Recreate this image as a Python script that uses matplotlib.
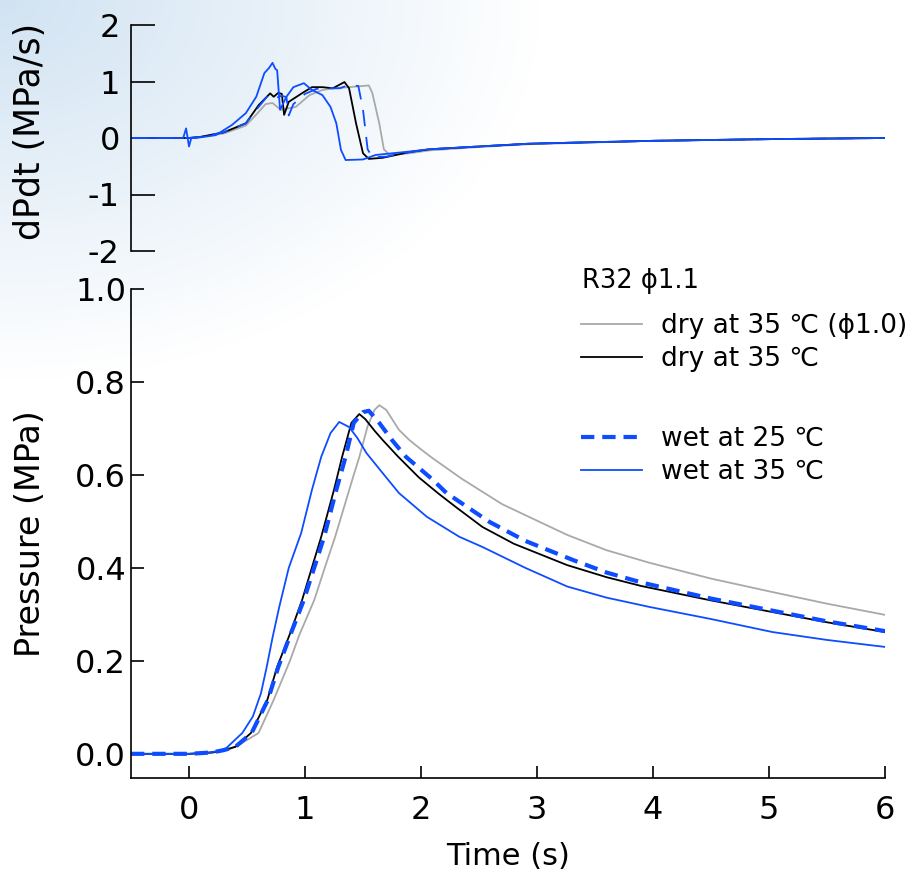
import numpy as np
import matplotlib
matplotlib.use('Agg')
import matplotlib.pyplot as plt
from matplotlib.lines import Line2D

plt.rcParams['font.family'] = ['DejaVu Sans']
plt.rcParams['axes.unicode_minus'] = False

# ---- pressure traces (s, MPa) ----
t_dry10 = [-0.5, 0.0, 0.2, 0.35, 0.45, 0.6, 0.73, 0.87, 0.95, 1.08, 1.17, 1.26, 1.42, 1.47, 1.54, 1.6, 1.64,
           1.70, 1.81, 1.9, 2.0, 2.1, 2.35, 2.7, 3.26, 3.6, 3.97, 4.5, 5.03, 5.5, 6.0]
p_dry10 = [0.0, 0.0, 0.002, 0.01, 0.022, 0.045, 0.116, 0.2, 0.255, 0.331, 0.4, 0.467, 0.6, 0.64, 0.705, 0.74, 0.75,
           0.74, 0.697, 0.675, 0.655, 0.636, 0.592, 0.537, 0.471, 0.438, 0.411, 0.377, 0.348, 0.323, 0.299]

t_dry35 = [-0.5, 0.0, 0.2, 0.3, 0.4, 0.535, 0.675, 0.76, 0.87, 0.975, 1.14, 1.25, 1.32, 1.40, 1.468, 1.52,
           1.6, 1.67, 1.8, 1.98, 2.15, 2.3, 2.53, 2.8, 3.26, 3.6, 3.9, 4.5, 5.03, 5.5, 6.0]
p_dry35 = [0.0, 0.0, 0.003, 0.008, 0.015, 0.045, 0.116, 0.187, 0.258, 0.331, 0.467, 0.568, 0.639, 0.712, 0.731, 0.72,
           0.695, 0.675, 0.64, 0.595, 0.56, 0.531, 0.488, 0.452, 0.406, 0.38, 0.361, 0.330, 0.305, 0.283, 0.262]

t_wet25 = [-0.5, 0.0, 0.2, 0.3, 0.4, 0.54, 0.68, 0.77, 0.88, 0.99, 1.165, 1.27, 1.35, 1.42, 1.5, 1.55,
           1.64, 1.75, 1.87, 2.1, 2.22, 2.59, 2.9, 3.31, 3.6, 3.91, 4.5, 5.03, 5.5, 6.0]
p_wet25 = [0.0, 0.0, 0.003, 0.008, 0.015, 0.045, 0.116, 0.187, 0.26, 0.331, 0.467, 0.568, 0.639, 0.712, 0.735, 0.738,
           0.712, 0.675, 0.639, 0.59, 0.561, 0.499, 0.458, 0.417, 0.39, 0.368, 0.334, 0.308, 0.285, 0.264]

t_wet35 = [-0.5, 0.0, 0.15, 0.25, 0.32, 0.46, 0.55, 0.62, 0.67, 0.72, 0.777, 0.86, 0.967, 1.06, 1.14, 1.22, 1.295,
           1.38, 1.45, 1.53, 1.65, 1.81, 2.05, 2.33, 2.53, 2.9, 3.26, 3.6, 3.97, 4.5, 5.03, 5.5, 6.0]
p_wet35 = [0.0, 0.0, 0.002, 0.006, 0.012, 0.045, 0.08, 0.13, 0.187, 0.25, 0.315, 0.40, 0.475, 0.568, 0.639, 0.69, 0.714,
           0.703, 0.68, 0.647, 0.61, 0.561, 0.51, 0.467, 0.445, 0.40, 0.36, 0.336, 0.316, 0.29, 0.262, 0.245, 0.23]

# ---- dP/dt traces (s, MPa/s) ----
td_dry10 = [-0.5, 0.0, 0.1, 0.3, 0.49, 0.6, 0.66, 0.72, 0.79, 0.92, 1.04, 1.15, 1.25, 1.38, 1.55, 1.58,
            1.64, 1.68, 1.73, 1.9, 2.07, 2.5, 2.94, 4.0, 5.0, 6.0]
d_dry10 = [0.0, 0.0, 0.02, 0.08, 0.22, 0.46, 0.6, 0.62, 0.5, 0.55, 0.76, 0.85, 0.88, 0.9, 0.93, 0.8,
           0.26, -0.2, -0.3, -0.27, -0.22, -0.16, -0.11, -0.05, -0.02, 0.0]

td_dry35 = [-0.5, 0.0, 0.1, 0.3, 0.49, 0.6, 0.7, 0.73, 0.77, 0.8, 0.82, 0.86, 0.98, 1.06, 1.15, 1.24,
            1.34, 1.38, 1.44, 1.5, 1.55, 1.67, 1.9, 2.07, 2.5, 2.94, 4.0, 5.0, 6.0]
d_dry35 = [0.0, 0.0, 0.02, 0.1, 0.26, 0.58, 0.79, 0.73, 0.8, 0.78, 0.41, 0.64, 0.8, 0.9, 0.9, 0.88,
           0.99, 0.88, 0.26, -0.27, -0.37, -0.35, -0.25, -0.2, -0.15, -0.1, -0.05, -0.02, 0.0]

td_wet25 = [-0.5, 0.0, 0.1, 0.3, 0.49, 0.6, 0.68, 0.74, 0.8, 0.84, 0.86, 0.9, 1.0, 1.1, 1.2, 1.3,
            1.38, 1.46, 1.5, 1.54, 1.58, 1.7, 1.9, 2.07, 2.5, 2.94, 4.0, 5.0, 6.0]
d_wet25 = [0.0, 0.0, 0.02, 0.1, 0.26, 0.55, 0.75, 0.7, 0.75, 0.72, 0.4, 0.6, 0.78, 0.87, 0.88, 0.88,
           0.94, 0.92, 0.5, -0.2, -0.34, -0.33, -0.25, -0.2, -0.15, -0.1, -0.05, -0.02, 0.0]

td_wet35 = [-0.5, -0.05, -0.025, 0.0, 0.02, 0.06, 0.23, 0.37, 0.49, 0.58, 0.65, 0.69, 0.72, 0.745, 0.76, 0.785,
            0.84, 0.9, 0.99, 1.06, 1.15, 1.22, 1.27, 1.31, 1.35, 1.5, 1.61, 1.9, 2.07, 2.5, 2.94, 4.0, 5.0, 6.0]
d_wet35 = [0.0, 0.0, 0.17, -0.15, 0.0, 0.0, 0.05, 0.23, 0.44, 0.73, 1.15, 1.24, 1.33, 1.22, 1.2, 0.5,
           0.73, 0.9, 0.97, 0.85, 0.76, 0.55, 0.26, -0.21, -0.39, -0.38, -0.3, -0.24, -0.2, -0.15, -0.1, -0.05, -0.02, 0.0]

GRAY = '#a9a9a9'
BLUE = '#0d4dff'
DASH_P = (0, (3.2, 1.9))
DASH_D = (0, (9, 6))

fig = plt.figure(figsize=(9.12, 8.82), dpi=100)

# faded background picture in the upper left corner
bg = fig.add_axes([0, 0, 1, 1], zorder=-10)
yy, xx = np.mgrid[0:882, 0:912]
fade = np.clip(1 - np.sqrt((xx / 540.0) ** 2 + (yy / 380.0) ** 2), 0, 1)
tint = np.array([0.82, 0.89, 0.95])
img = np.ones((882, 912, 3)) * (1 - fade[..., None]) + tint * fade[..., None]
bg.imshow(img, aspect='auto')
bg.axis('off')

# ---- top: dP/dt ----
ax1 = fig.add_axes([131 / 912, 1 - 251 / 882, 754 / 912, 226 / 882])
ax1.set_facecolor('none')
ax1.plot(td_dry10, d_dry10, color=GRAY, lw=1.3)
ax1.plot(td_dry35, d_dry35, color='black', lw=1.3)
ax1.plot(td_wet25, d_wet25, color=BLUE, lw=1.3, ls=DASH_D)
ax1.plot(td_wet35, d_wet35, color=BLUE, lw=1.3)
ax1.set_xlim(-0.5, 6)
ax1.set_ylim(-2, 2)
ax1.set_yticks([-2, -1, 0, 1, 2])
ax1.set_xticks([])
for s in ['top', 'right', 'bottom']:
    ax1.spines[s].set_visible(False)
ax1.spines['left'].set_linewidth(1.2)
ax1.tick_params(axis='y', direction='in', length=17, width=1.2, labelsize=23, pad=8)
ax1.set_ylabel('dPdt (MPa/s)', fontsize=25)
ax1.yaxis.set_label_coords(-0.112, 0.53)

# ---- bottom: pressure ----
ax2 = fig.add_axes([131 / 912, 1 - 778 / 882, 754 / 912, 489 / 882])
ax2.set_facecolor('none')
ax2.plot(t_dry10, p_dry10, color=GRAY, lw=1.3)
ax2.plot(t_dry35, p_dry35, color='black', lw=1.3)
ax2.plot(t_wet25, p_wet25, color=BLUE, lw=3.0, ls=DASH_P)
ax2.plot(t_wet35, p_wet35, color=BLUE, lw=1.3)
ax2.set_xlim(-0.5, 6)
ax2.set_ylim(-0.052, 1.0)
ax2.set_xticks([0, 1, 2, 3, 4, 5, 6])
ax2.set_yticks([0.0, 0.2, 0.4, 0.6, 0.8, 1.0])
ax2.set_yticklabels(['0.0', '0.2', '0.4', '0.6', '0.8', '1.0'])
for s in ['top', 'right']:
    ax2.spines[s].set_visible(False)
ax2.spines['left'].set_linewidth(1.2)
ax2.spines['bottom'].set_linewidth(1.2)
ax2.tick_params(axis='both', direction='in', length=9, width=1.2, labelsize=23)
ax2.tick_params(axis='x', pad=12)
ax2.set_xlabel('Time (s)', fontsize=22, labelpad=12)
ax2.set_ylabel('Pressure (MPa)', fontsize=24)
ax2.yaxis.set_label_coords(-0.112, 0.5)

h_dry10 = Line2D([], [], color=GRAY, lw=1.3)
h_dry35 = Line2D([], [], color='black', lw=1.3)
h_wet25 = Line2D([], [], color=BLUE, lw=3.0, ls=DASH_P)
h_wet35 = Line2D([], [], color=BLUE, lw=1.3)

fig.text(582 / 912, 1 - 281 / 882, 'R32 \u03d51.1', fontsize=18.5, ha='left', va='center')
leg_kw = dict(fontsize=19, frameon=False, loc='upper left', bbox_transform=fig.transFigure,
              borderpad=0, borderaxespad=0, handlelength=2.3, handletextpad=0.72, labelspacing=0.27)
leg1 = ax2.legend([h_dry10, h_dry35], ['dry at 35 \u2103 (\u03d51.0)', 'dry at 35 \u2103'],
                  bbox_to_anchor=(581 / 912, 1 - 313 / 882), **leg_kw)
ax2.add_artist(leg1)
ax2.legend([h_wet25, h_wet35], ['wet at 25 \u2103', 'wet at 35 \u2103'],
           bbox_to_anchor=(581 / 912, 1 - 426 / 882), **leg_kw)

fig.savefig('out.png', dpi=100)
